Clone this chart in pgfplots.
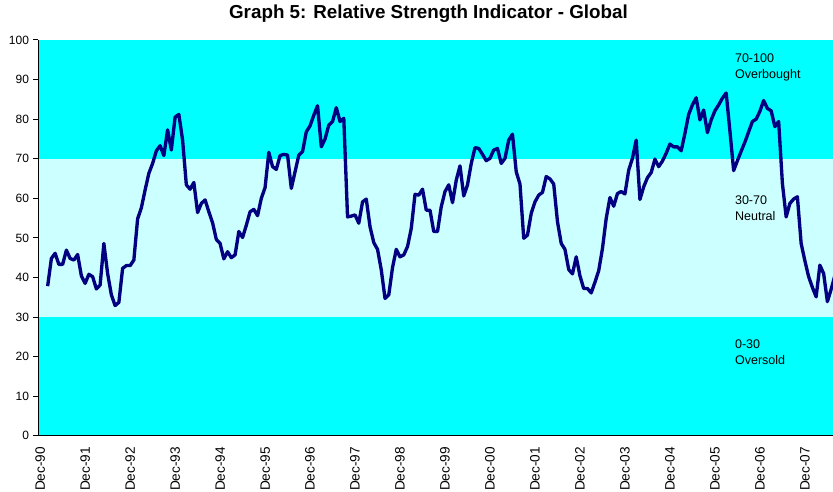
\documentclass[border=0pt]{standalone}
\usepackage{pgfplots}
\pgfplotsset{compat=1.18}
\usepackage{pgfplotstable}
\usepackage{fontspec}
\setmainfont{Liberation Sans}
\definecolor{bandcyan}{RGB}{0,255,255}
\definecolor{lightband}{RGB}{204,255,255}
\definecolor{rsinavy}{RGB}{0,0,128}

\pgfplotstableread{
x y
2 37.8
3 44.8
4 46.1
5 43.3
6 43.3
7 46.9
8 44.8
9 44.4
10 45.8
11 40.4
12 38.5
13 40.8
14 40.2
15 37.1
16 38.1
17 48.6
18 41.0
19 35.6
20 32.9
21 33.7
22 42.3
23 43.0
24 43.0
25 44.4
26 54.8
27 57.6
28 62.1
29 66.3
30 68.8
31 72.0
32 73.3
33 70.8
34 77.3
35 72.2
36 80.5
37 81.2
38 74.7
39 63.4
40 62.3
41 64.0
42 56.4
43 58.7
44 59.6
45 56.6
46 53.8
47 49.6
48 48.6
49 44.7
50 46.5
51 45.0
52 45.7
53 51.6
54 50.1
55 53.2
56 56.6
57 57.2
58 55.6
59 60.0
60 62.7
61 71.6
62 68.0
63 67.3
64 70.8
65 71.1
66 70.9
67 62.5
68 66.7
69 70.9
70 71.8
71 76.8
72 78.3
73 81.0
74 83.4
75 73.0
76 75.0
77 78.5
78 79.4
79 82.9
80 79.4
81 80.2
82 55.3
83 55.5
84 55.8
85 53.7
86 59.1
87 59.8
88 52.8
89 48.8
90 47.1
91 41.9
92 34.7
93 35.6
94 42.5
95 47.1
96 45.2
97 45.7
98 47.8
99 52.4
100 61.0
101 60.8
102 62.3
103 57.0
104 57.0
105 51.6
106 51.6
107 57.9
108 61.7
109 63.4
110 58.9
111 64.6
112 68.2
113 60.6
114 63.4
115 68.8
116 72.8
117 72.6
118 71.1
119 69.5
120 70.1
121 72.2
122 72.6
123 68.8
124 70.1
125 74.7
126 76.2
127 66.7
128 63.6
129 49.9
130 50.7
131 56.2
132 59.1
133 60.8
134 61.5
135 65.5
136 64.9
137 63.6
138 54.1
139 48.6
140 47.1
141 42.0
142 40.9
143 45.2
144 40.4
145 37.2
146 37.2
147 36.1
148 38.8
149 41.7
150 47.3
151 54.9
152 60.2
153 58.0
154 61.2
155 61.7
156 61.1
157 67.1
158 70.1
159 74.7
160 59.7
161 62.9
162 65.2
163 66.5
164 69.9
165 68.0
166 69.4
167 71.4
168 73.7
169 73.0
170 73.0
171 72.0
172 76.4
173 81.2
174 83.6
175 85.4
176 79.8
177 82.3
178 76.6
179 79.8
180 82.1
181 83.6
182 85.3
183 86.6
184 77.0
185 67.0
186 69.5
187 71.9
188 74.2
189 76.8
190 79.4
191 80.0
192 82.0
193 84.7
194 82.7
195 82.1
196 78.1
197 79.4
198 63.8
199 55.3
200 58.7
201 59.8
202 60.4
203 48.6
204 44.2
205 40.2
206 37.5
207 35.1
208 43.1
209 41.0
210 33.9
211 37.0
212 40.5
}\rsidata

\begin{document}
\begin{tikzpicture}
\begin{axis}[
  scale only axis, width=596pt, height=296.8pt,
  xmin=-0.5, xmax=211.5, ymin=0, ymax=100,
  axis x line=bottom, axis y line=left,
  axis line style={-, black, line width=0.75pt},
  axis on top,
  axis background/.style={fill=bandcyan},
  ytick={0,10,...,100},
  xtick={0,12,...,204},
  xticklabels={Dec-90,Dec-91,Dec-92,Dec-93,Dec-94,Dec-95,Dec-96,Dec-97,Dec-98,Dec-99,Dec-00,Dec-01,Dec-02,Dec-03,Dec-04,Dec-05,Dec-06,Dec-07},
  tick align=outside, major tick length=3.75pt,
  xtick style={draw=none},
  ytick style={black, line width=0.75pt},
  x tick label style={rotate=90, anchor=east, inner sep=0pt, font=\fontsize{10.2}{12}\selectfont},
  y tick label style={inner sep=0pt, font=\fontsize{9}{11}\selectfont},
  xticklabel shift=4.5pt,
  yticklabel shift=3pt,
  /pgf/number format/assume math mode=true,
  title={Graph 5: Relative Strength Indicator - Global},
  title style={font=\bfseries\fontsize{14.1}{16}\selectfont, at={(0.491,1)}, anchor=base, yshift=9.75pt, inner sep=0pt},
]
\addplot[draw=none, fill=lightband] coordinates {(-0.5,30) (211.5,30) (211.5,70) (-0.5,70)} -- cycle;
\addplot[rsinavy, line width=2.5pt, line join=round] table[x=x,y=y]{\rsidata};
\node[anchor=north west, align=left, inner sep=0pt, font=\fontsize{9.4}{12}\selectfont] at (axis cs:185.3,96.6) {70-100\\Overbought};
\node[anchor=north west, align=left, inner sep=0pt, font=\fontsize{9.4}{12}\selectfont] at (axis cs:185.3,60.8) {30-70\\Neutral};
\node[anchor=north west, align=left, inner sep=0pt, font=\fontsize{9.4}{12}\selectfont] at (axis cs:185.3,24.4) {0-30\\Oversold};
\end{axis}
\pgfresetboundingbox
\path[use as bounding box] ([xshift=-28.7pt,yshift=-41.5pt]current axis.south west) rectangle ([yshift=30pt]current axis.north east);
\end{tikzpicture}
\end{document}
